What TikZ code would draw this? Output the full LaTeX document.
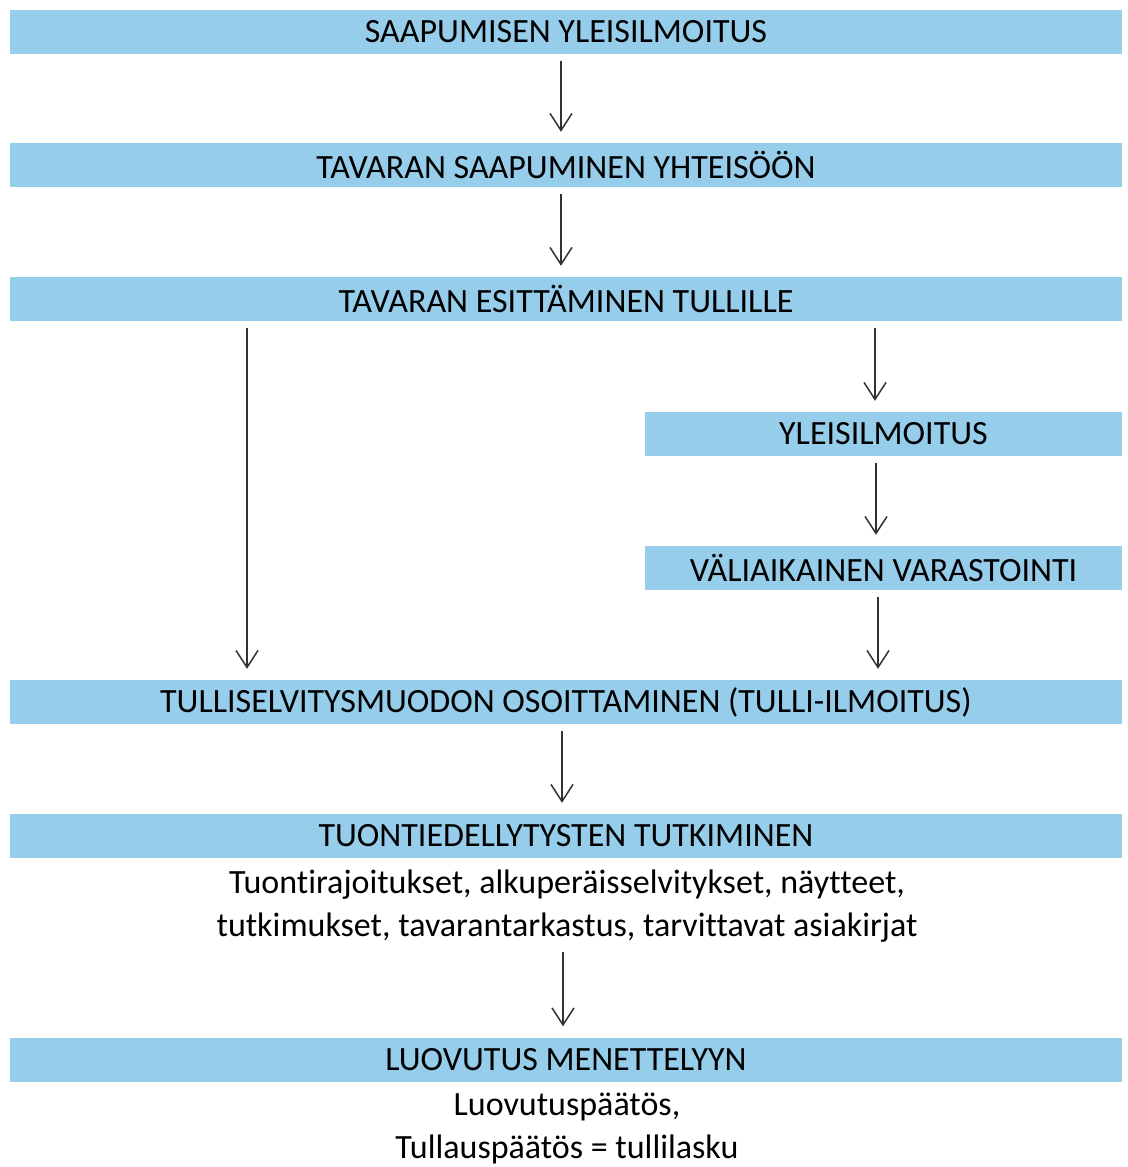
\documentclass[tikz,border=0pt]{standalone}
\usepackage{fontspec}
\setmainfont[Ligatures=NoCommon]{Carlito}
\usetikzlibrary{arrows.meta}
\definecolor{barblue}{RGB}{149,205,235}
\definecolor{arrgray}{RGB}{50,50,50}
\tikzset{%
  bar/.style = {rectangle,fill=barblue,inner sep=0pt,minimum height=44pt,
        font=\fontsize{34}{40}\selectfont,text=black},
  wide/.style = {bar,minimum width=1112pt},
  half/.style = {bar,minimum width=477pt},
  note/.style = {align=center,inner sep=0pt,font=\fontsize{34}{43}\selectfont,
        text=black},
  arr/.style = {-{Straight Barb[length=17pt,width=22pt]},line width=1.5pt,
        draw=arrgray,shorten <=7pt,shorten >=11pt}
}

\begin{document}
\begin{tikzpicture}[x=1pt,y=-1pt]
    \useasboundingbox (0,0) rectangle (1127,1167);
    \node[wide] (b1) at (566,31.5) {SAAPUMISEN YLEISILMOITUS};
    \node[wide] (b2) at (566,165) {TAVARAN SAAPUMINEN YHTEISÖÖN};
    \node[wide] (b3) at (566,299) {TAVARAN ESITTÄMINEN TULLILLE};
    \node[half] (b4) at (883.5,434) {YLEISILMOITUS};
    \node[half] (b5) at (883.5,568) {VÄLIAIKAINEN VARASTOINTI};
    \node[wide] (b6) at (566,702) {TULLISELVITYSMUODON OSOITTAMINEN (TULLI-ILMOITUS)};
    \node[wide] (b7) at (566,836) {TUONTIEDELLYTYSTEN TUTKIMINEN};
    \node[note] (n7) at (567,906) {Tuontirajoitukset, alkuperäisselvitykset, näytteet,\\
        tutkimukset, tavarantarkastus, tarvittavat asiakirjat};
    \node[note] (n8) at (567,1128.5) {Luovutuspäätös,\\ Tullauspäätös = tullilasku};
    \node[wide] (b8) at (566,1059.5) {LUOVUTUS MENETTELYYN};

    \draw[arr] (b1.south -| 561,0) -- (b2.north -| 561,0);
    \draw[arr] (b2.south -| 561,0) -- (b3.north -| 561,0);
    \draw[arr] (b3.south -| 247,0) -- (b6.north -| 247,0);
    \draw[arr] (b3.south -| 875,0) -- (b4.north -| 875,0);
    \draw[arr] (b4.south -| 876,0) -- (b5.north -| 876,0);
    \draw[arr] (b5.south -| 878,0) -- (b6.north -| 878,0);
    \draw[arr] (b6.south -| 562,0) -- (b7.north -| 562,0);
    \draw[arr,shorten <=10pt] (n7.south -| 563,0) -- (b8.north -| 563,0);
\end{tikzpicture}
\end{document}
